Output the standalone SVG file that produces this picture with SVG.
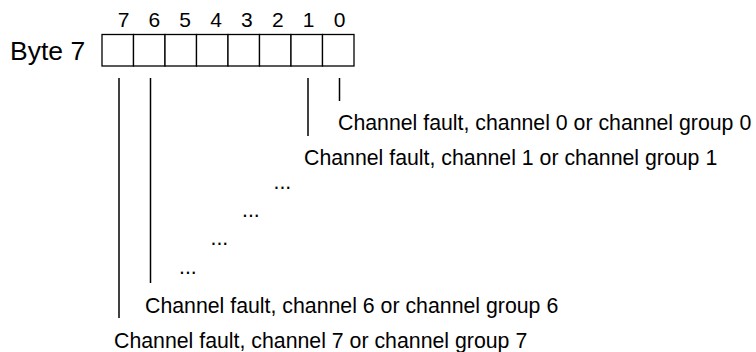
<svg xmlns="http://www.w3.org/2000/svg" width="756" height="352" viewBox="0 0 756 352">
<style>
text{font-family:"Liberation Sans",Arial,sans-serif;fill:#000}
.lbl{font-size:21.3px}
.dig{font-size:21px;text-anchor:middle}
.byte{font-size:26.5px}
.cell{fill:#fff;stroke:#000;stroke-width:1.3}
.ln{stroke:#000;stroke-width:1.5;fill:none}
</style>
<rect width="756" height="352" fill="#fff"/>
<g id="byte">
<text class="byte" x="10" y="59.5">Byte 7</text>
<g id="cells">
<rect class="cell" x="102" y="34.5" width="31.5" height="31.5"/>
<rect class="cell" x="133.5" y="34.5" width="31.5" height="31.5"/>
<rect class="cell" x="165" y="34.5" width="31.5" height="31.5"/>
<rect class="cell" x="196.5" y="34.5" width="31.5" height="31.5"/>
<rect class="cell" x="228" y="34.5" width="31.5" height="31.5"/>
<rect class="cell" x="259.5" y="34.5" width="31.5" height="31.5"/>
<rect class="cell" x="291" y="34.5" width="31.5" height="31.5"/>
<rect class="cell" x="322.5" y="34.5" width="31.5" height="31.5"/>
</g>
<g id="bits">
<text class="dig" x="123.5" y="26.5">7</text>
<text class="dig" x="154.4" y="26.5">6</text>
<text class="dig" x="185.2" y="26.5">5</text>
<text class="dig" x="216.1" y="26.5">4</text>
<text class="dig" x="246.9" y="26.5">3</text>
<text class="dig" x="277.8" y="26.5">2</text>
<text class="dig" x="308.7" y="26.5">1</text>
<text class="dig" x="339.5" y="26.5">0</text>
</g>
</g>
<g id="connectors">
<line class="ln" x1="119" y1="78" x2="119" y2="318"/>
<line class="ln" x1="150.5" y1="78" x2="150.5" y2="283"/>
<line class="ln" x1="308" y1="78" x2="308" y2="136"/>
<line class="ln" x1="339.5" y1="78" x2="339.5" y2="101"/>
</g>
<g id="label0"><text class="lbl" x="338" y="130">Channel fault, channel 0 or channel group 0</text></g>
<g id="label1"><text class="lbl" x="304" y="165">Channel fault, channel 1 or channel group 1</text></g>
<g id="dots">
<text class="lbl" x="273.5" y="188.5">...</text>
<text class="lbl" x="242" y="216.5">...</text>
<text class="lbl" x="210.5" y="245">...</text>
<text class="lbl" x="179" y="273.5">...</text>
</g>
<g id="label6"><text class="lbl" x="145" y="313">Channel fault, channel 6 or channel group 6</text></g>
<g id="label7"><text class="lbl" x="114" y="348">Channel fault, channel 7 or channel group 7</text></g>
</svg>
